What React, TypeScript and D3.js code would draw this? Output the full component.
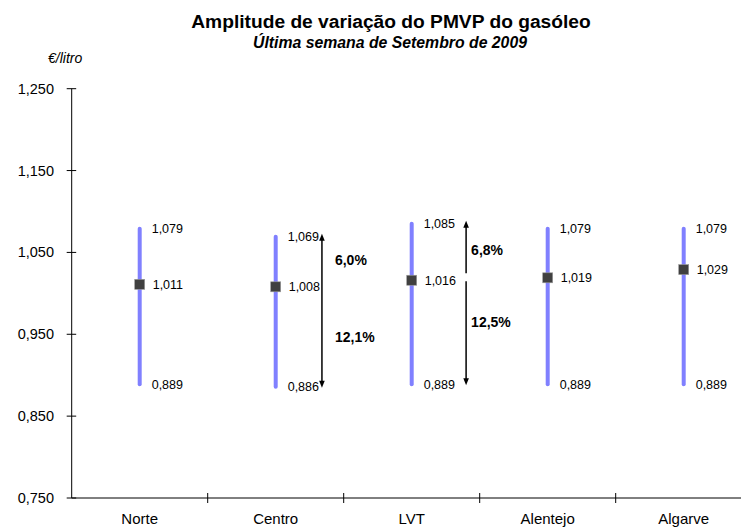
import React from "react";
import * as d3 from "d3";

const categories = ["Norte", "Centro", "LVT", "Alentejo", "Algarve"];
const maxValues = [1.079, 1.069, 1.085, 1.079, 1.079];
const avgValues = [1.011, 1.008, 1.016, 1.019, 1.029];
const minValues = [0.889, 0.886, 0.889, 0.889, 0.889];
const yTicks = [0.75, 0.85, 0.95, 1.05, 1.15, 1.25];
const arrowCategories = ["Centro", "LVT"];
const arrowStyles = ["continuous", "split"];
const upperPct = ["6,0%", "6,8%"];
const lowerPct = ["12,1%", "12,5%"];

const W = 741;
const H = 527;
const FONT = "'Liberation Sans', Arial, sans-serif";

const locale = d3.formatLocale({ decimal: ",", thousands: ".", grouping: [3], currency: ["", "€"] });
const fmt = locale.format(".3f");

export default function App() {
  const x0 = 71.7;
  const band = 136;
  const x = d3.scaleBand<string>().domain(categories).range([x0, x0 + band * categories.length]).paddingInner(0).paddingOuter(0);
  const y = d3.scaleLinear().domain([0.75, 1.25]).range([498, 88.7]);
  const cx = (c: string) => (x(c) as number) + x.bandwidth() / 2;

  const arrowHead = (ax: number, ay: number, dir: number) =>
    `M${ax},${ay} L${ax - 2.8},${ay + dir * 7} L${ax + 2.8},${ay + dir * 7} Z`;

  return (
    <div style={{ position: "absolute", left: 0, top: 0 }}>
      <svg width={W} height={H} style={{ display: "block", fontFamily: FONT }}>
        <rect x={0} y={0} width={W} height={H} fill="#ffffff" />
        <text x={391} y={28} textAnchor="middle" fontSize={19.2} fontWeight="bold" fill="#000">
          Amplitude de variação do PMVP do gasóleo
        </text>
        <text x={390} y={48} textAnchor="middle" fontSize={15.8} fontWeight="bold" fontStyle="italic" fill="#000">
          Última semana de Setembro de 2009
        </text>
        <text x={48} y={63} fontSize={14} fontStyle="italic" fill="#000">
          €/litro
        </text>

        {/* y axis */}
        <line x1={x0} x2={x0} y1={y(1.25)} y2={y(0.75)} stroke="#000" strokeWidth={1} />
        {yTicks.map((t) => (
          <g key={t}>
            <line x1={x0 - 5} x2={x0 + 4.5} y1={y(t)} y2={y(t)} stroke="#000" strokeWidth={1} />
            <text x={54} y={y(t)} dy="0.35em" textAnchor="end" fontSize={14.5} fill="#000">
              {fmt(t)}
            </text>
          </g>
        ))}

        {/* x axis */}
        <line x1={x0} x2={W} y1={y(0.75)} y2={y(0.75)} stroke="#000" strokeWidth={1} />
        {categories.slice(1).map((c) => (
          <line key={c} x1={x(c) as number} x2={x(c) as number} y1={y(0.75) - 5} y2={y(0.75) + 5} stroke="#000" strokeWidth={1} />
        ))}
        {categories.map((c) => (
          <text key={c} x={cx(c)} y={524} textAnchor="middle" fontSize={15} fill="#000">
            {c}
          </text>
        ))}

        {/* range bars */}
        {categories.map((c, i) => (
          <g key={c}>
            <line x1={cx(c)} x2={cx(c)} y1={y(maxValues[i])} y2={y(minValues[i])} stroke="#8080ff" strokeWidth={4} strokeLinecap="round" />
            <rect x={cx(c) - 5} y={y(avgValues[i]) - 5} width={10} height={10} fill="#404040" stroke="#9a9a9a" strokeWidth={0.6} />
            <text x={cx(c) + 12} y={y(maxValues[i])} dy="0.35em" fontSize={12.5} fill="#000">{fmt(maxValues[i])}</text>
            <text x={cx(c) + 13} y={y(avgValues[i])} dy="0.35em" fontSize={12.5} fill="#000">{fmt(avgValues[i])}</text>
            <text x={cx(c) + 12} y={y(minValues[i])} dy="0.35em" fontSize={12.5} fill="#000">{fmt(minValues[i])}</text>
          </g>
        ))}

        {/* arrows */}
        {arrowCategories.map((c, k) => {
          const i = categories.indexOf(c);
          const split = arrowStyles[k] === "split";
          const ax = (x(c) as number) + x.bandwidth() * (split ? 0.9 : 0.84);
          const yTop = y(maxValues[i]) - 3;
          const yBot = y(minValues[i]) + 1;
          const yAvg = y(avgValues[i]);
          const lx = ax + (split ? 5 : 13);
          return (
            <g key={c}>
              {split ? (
                <>
                  <line x1={ax} x2={ax} y1={yTop + 5} y2={yAvg - 7} stroke="#000" strokeWidth={1.5} />
                  <line x1={ax} x2={ax} y1={yAvg + 1} y2={yBot - 5} stroke="#000" strokeWidth={1.5} />
                </>
              ) : (
                <line x1={ax} x2={ax} y1={yTop + 5} y2={yBot - 5} stroke="#000" strokeWidth={1.5} />
              )}
              <path d={arrowHead(ax, yTop, 1)} fill="#000" />
              <path d={arrowHead(ax, yBot, -1)} fill="#000" />
              <text x={lx} y={(yTop + yAvg) / 2} dy="0.35em" fontSize={14} fontWeight="bold" fill="#000">{upperPct[k]}</text>
              <text x={lx} y={split ? yAvg + (yBot - yAvg) * 0.4 : (yAvg + yBot) / 2} dy="0.35em" fontSize={14} fontWeight="bold" fill="#000">{lowerPct[k]}</text>
            </g>
          );
        })}
      </svg>
    </div>
  );
}
